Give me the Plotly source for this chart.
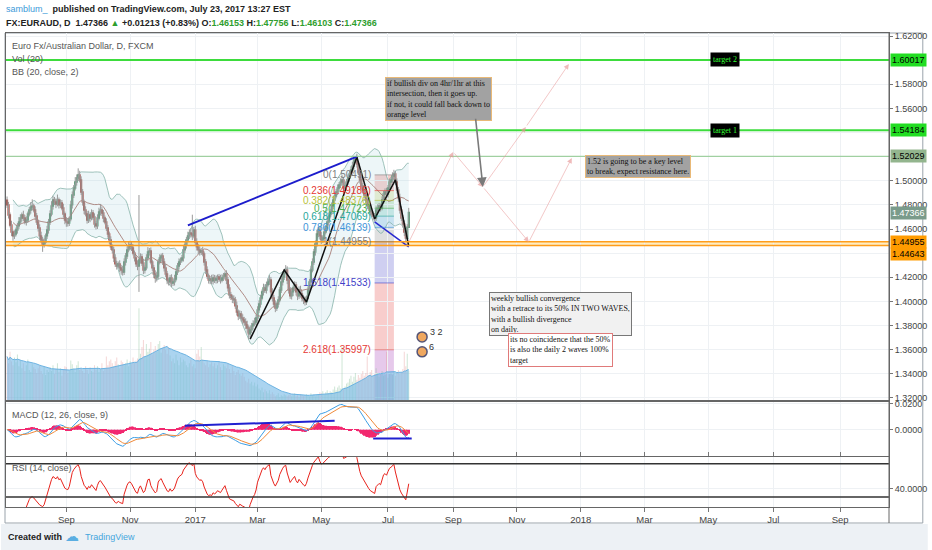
import numpy as np
import pandas as pd
import plotly.graph_objects as go

# EUR/AUD daily candles (Jul 2016 .. Jul 21 2017)
closes = [
    1.4800, 1.4717, 1.4634, 1.4576, 1.4543, 1.4559, 1.4592, 1.4626, 1.4659, 1.4692,
    1.4717, 1.4692, 1.4659, 1.4675, 1.4725, 1.4758, 1.4783, 1.4791, 1.4758, 1.4708,
    1.4659, 1.4609, 1.4543, 1.4510, 1.4476, 1.4493, 1.4543, 1.4592, 1.4659, 1.4725,
    1.4791, 1.4841, 1.4824, 1.4808, 1.4841, 1.4800, 1.4816, 1.4775, 1.4725, 1.4675,
    1.4659, 1.4650, 1.4684, 1.4800, 1.4882, 1.4940, 1.4990, 1.5023, 1.5048, 1.5007,
    1.4907, 1.4824, 1.4758, 1.4725, 1.4675, 1.4717, 1.4692, 1.4733, 1.4700, 1.4642,
    1.4626, 1.4692, 1.4742, 1.4758, 1.4733, 1.4692, 1.4659, 1.4609, 1.4559, 1.4510,
    1.4452, 1.4427, 1.4361, 1.4311, 1.4294, 1.4311, 1.4278, 1.4261, 1.4244, 1.4327,
    1.4377, 1.4427, 1.4460, 1.4468, 1.4443, 1.4402, 1.4361, 1.4311, 1.4294, 1.4344,
    1.4369, 1.4319, 1.4261, 1.4278, 1.4361, 1.4410, 1.4418, 1.4327, 1.4278, 1.4228,
    1.4195, 1.4211, 1.4327, 1.4361, 1.4377, 1.4327, 1.4278, 1.4228, 1.4178, 1.4162,
    1.4195, 1.4153, 1.4162, 1.4186, 1.4244, 1.4294, 1.4327, 1.4344, 1.4361, 1.4427,
    1.4468, 1.4510, 1.4543, 1.4568, 1.4559, 1.4543, 1.4592, 1.4493, 1.4452, 1.4427,
    1.4410, 1.4418, 1.4394, 1.4327, 1.4261, 1.4211, 1.4178, 1.4186, 1.4170, 1.4195,
    1.4178, 1.4186, 1.4203, 1.4186, 1.4178, 1.4195, 1.4211, 1.4228, 1.4178, 1.4112,
    1.4054, 1.4037, 1.4021, 1.4013, 1.3963, 1.3913, 1.3880, 1.3896, 1.3863, 1.3847,
    1.3830, 1.3805, 1.3780, 1.3731, 1.3764, 1.3797, 1.3814, 1.3830, 1.3863, 1.3930,
    1.3979, 1.4029, 1.4079, 1.4112, 1.4095, 1.4137, 1.4162, 1.4178, 1.4079, 1.4029,
    1.3979, 1.3946, 1.3979, 1.4013, 1.4095, 1.4162, 1.4203, 1.4244, 1.4261, 1.4178,
    1.4095, 1.4046, 1.4079, 1.4112, 1.4137, 1.4079, 1.4046, 1.4095, 1.4062, 1.4029,
    1.4013, 1.3996, 1.4029, 1.4095, 1.4162, 1.4261, 1.4327, 1.4410, 1.4476, 1.4559,
    1.4592, 1.4543, 1.4510, 1.4526, 1.4576, 1.4609, 1.4659, 1.4708, 1.4742, 1.4791,
    1.4841, 1.4874, 1.4907, 1.4940, 1.4965, 1.4990, 1.5007, 1.4940, 1.4957, 1.4990,
    1.5023, 1.5056, 1.5090, 1.5123, 1.5172, 1.5189, 1.5139, 1.5073, 1.5007, 1.4957,
    1.4924, 1.4882, 1.4841, 1.4800, 1.4775, 1.4742, 1.4725, 1.4708, 1.4692, 1.4758,
    1.4775, 1.4791, 1.4775, 1.4841, 1.4891, 1.4907, 1.4891, 1.4940, 1.4990, 1.5007,
    1.5040, 1.5056, 1.4990, 1.4924, 1.4858, 1.4758, 1.4692, 1.4642, 1.4576, 1.4526,
    1.46153, 1.47366,
]
first_open = 1.4840

# wick lengths beyond the candle body, in pips
upper_wick_pips = [
    30, 25, 20, 35, 15, 30, 20, 25, 40, 30,
    20, 35, 25, 30, 20, 25, 40, 55, 20, 30,
    25, 20, 30, 35, 25, 30, 20, 35, 25, 30,
    40, 35, 25, 30, 45, 20, 30, 25, 35, 20,
    25, 30, 20, 35, 30, 25, 40, 30, 55, 35,
    30, 25, 20, 30, 25, 35, 20, 30, 25, 30,
    25, 30, 35, 50, 30, 25, 20, 30, 25, 20,
    30, 20, 25, 30, 25, 20, 30, 25, 35, 30,
    25, 30, 40, 35, 25, 30, 20, 25, 30, 538,
    30, 25, 35, 20, 30, 40, 25, 30, 20, 25,
    30, 35, 25, 30, 20, 25, 30, 35, 25, 20,
    25, 30, 20, 35, 30, 25, 30, 20, 25, 35,
    30, 25, 35, 30, 40, 160, 25, 35, 30, 25,
    30, 25, 35, 20, 25, 30, 20, 25, 35, 30,
    25, 30, 20, 25, 35, 30, 25, 20, 30, 25,
    30, 25, 20, 30, 25, 35, 20, 30, 25, 30,
    25, 30, 35, 20, 30, 25, 30, 35, 25, 30,
    30, 25, 20, 35, 30, 25, 30, 40, 25, 30,
    25, 30, 20, 30, 25, 35, 30, 25, 40, 30,
    30, 25, 35, 20, 30, 25, 20, 30, 35, 25,
    25, 30, 20, 30, 25, 35, 30, 25, 30, 35,
    30, 25, 35, 20, 30, 25, 35, 30, 25, 30,
    30, 35, 25, 30, 25, 30, 40, 25, 30, 25,
    30, 25, 30, 35, 30, 15, 35, 25, 30, 25,
    25, 30, 35, 20, 30, 25, 30, 20, 25, 30,
    30, 25, 20, 30, 25, 30, 35, 25, 30, 25,
    30, 35, 25, 30, 25, 35, 30, 25, 30, 25,
    25, 39,
]
lower_wick_pips = [
    25, 30, 20, 35, 40, 25, 20, 30, 25, 20,
    30, 25, 20, 30, 25, 20, 30, 25, 20, 30,
    25, 30, 35, 25, 65, 30, 20, 25, 30, 25,
    20, 30, 25, 35, 20, 30, 25, 20, 30, 35,
    40, 30, 25, 20, 30, 25, 20, 30, 25, 20,
    25, 30, 35, 20, 30, 25, 35, 20, 25, 30,
    30, 25, 20, 30, 25, 35, 20, 25, 30, 35,
    25, 30, 35, 25, 30, 20, 35, 40, 30, 25,
    30, 25, 20, 30, 25, 20, 30, 25, 35, 215,
    30, 25, 35, 30, 20, 25, 30, 20, 25, 35,
    40, 30, 25, 20, 30, 25, 30, 25, 35, 30,
    30, 35, 25, 30, 20, 25, 30, 25, 20, 30,
    25, 30, 20, 25, 30, 35, 20, 25, 30, 35,
    30, 25, 20, 30, 35, 25, 30, 35, 25, 30,
    25, 30, 35, 25, 30, 20, 25, 30, 35, 30,
    30, 25, 35, 30, 25, 30, 35, 25, 30, 35,
    30, 35, 40, 45, 30, 25, 30, 20, 25, 30,
    25, 30, 20, 30, 25, 30, 20, 25, 35, 30,
    30, 35, 25, 30, 20, 25, 30, 25, 20, 35,
    30, 25, 30, 35, 25, 30, 35, 25, 30, 30,
    35, 30, 25, 20, 25, 30, 20, 25, 30, 25,
    25, 30, 35, 25, 30, 20, 25, 30, 20, 25,
    25, 30, 20, 25, 30, 25, 20, 30, 25, 30,
    25, 30, 20, 25, 30, 25, 30, 25, 30, 35,
    30, 25, 30, 35, 25, 30, 25, 35, 30, 25,
    30, 25, 30, 20, 25, 30, 25, 30, 20, 25,
    25, 30, 25, 30, 35, 30, 25, 30, 35, 30,
    66, 5,
]
volumes = [
    45, 38, 50, 40, 36, 44, 39, 47, 35, 41,
    33, 38, 30, 36, 42, 31, 29, 37, 34, 32,
    28, 33, 36, 30, 27, 35, 26, 31, 29, 34,
    30, 36, 27, 32, 38, 29, 33, 25, 31, 35,
    34, 28, 30, 41, 37, 33, 29, 36, 40, 31,
    33, 30, 28, 35, 31, 27, 34, 30, 29, 36,
    31, 35, 29, 32, 38, 30, 33, 45, 36, 40,
    42, 38, 35, 40, 44, 37, 33, 41, 39, 36,
    38, 42, 35, 40, 37, 44, 39, 41, 43, 95,
    48, 55, 62, 45, 58, 50, 53, 60, 47, 52,
    56, 50, 58, 61, 49, 54, 57, 52, 48, 55,
    46, 40, 43, 38, 47, 41, 36, 44, 39, 42,
    40, 36, 34, 38, 42, 35, 37, 33, 48, 52,
    45, 55, 42, 38, 36, 40, 34, 37, 39, 35,
    38, 33, 36, 40, 34, 31, 37, 35, 33, 38,
    32, 28, 35, 30, 26, 29, 31, 27, 25, 28,
    24, 20, 18, 22, 17, 19, 15, 18, 14, 16,
    12, 10, 13, 8, 11, 9, 7, 10, 6, 8,
    6, 4, 5, 7, 3, 5, 4, 6, 5, 4,
    5, 6, 4, 5, 7, 4, 5, 3, 6, 5,
    4, 5, 6, 5, 4, 7, 5, 6, 4, 5,
    6, 8, 7, 9, 6, 8, 10, 7, 9, 8,
    11, 14, 10, 13, 15, 12, 55, 11, 14, 17,
    18, 22, 25, 19, 24, 28, 21, 26, 23, 27,
    30, 25, 28, 45, 26, 29, 31, 24, 27, 33,
    28, 24, 27, 30, 25, 26, 50, 23, 27, 28,
    26, 30, 25, 28, 31, 27, 29, 32, 50, 35,
    48, 30,
]
last_date = "2017-07-21"

# x tick labels (every second month)
tick_dates = ["2016-09-01", "2016-11-01", "2017-01-02", "2017-03-01", "2017-05-01", "2017-07-03",
              "2017-09-01", "2017-11-01", "2018-01-01", "2018-03-01", "2018-05-01", "2018-07-02",
              "2018-09-03"]
tick_text = ["Sep", "Nov", "2017", "Mar", "May", "Jul", "Sep", "Nov", "2018", "Mar", "May", "Jul", "Sep"]
# price ticks shown on the right axis (the rest sit under the price badges)
price_ticks = [1.32, 1.34, 1.36, 1.38, 1.40, 1.42, 1.46, 1.48, 1.50, 1.56, 1.58, 1.62]
hidden_price_ticks = [1.44, 1.52, 1.54, 1.60]

# horizontal levels drawn by the author
target_levels = [1.60017, 1.54184]
target_names = ["target 2", "target 1"]
key_level = 1.52029
orange_levels = [1.44955, 1.44643]

# fibonacci retracement (bar indexes of its box)
fib_ratios = [0, 0.236, 0.382, 0.5, 0.618, 0.786, 1, 1.618, 2.618, 3.618]
fib_prices = [1.50491, 1.49186, 1.48376, 1.47723, 1.47069, 1.46139, 1.44955, 1.41533, 1.35997, 1.30461]
fib_colors = ["#808080", "#e53935", "#b8c23a", "#4caf50", "#26a69a", "#3d94d8", "#808080",
              "#3f3fc8", "#e53935", "#9c27b0"]
fib_bars = [248, 261]

# trend drawings: (bar index, price)
zigzag_bars = [164, 187, 202, 236, 248, 262, 271]
zigzag_prices = [1.3688, 1.4261, 1.3996, 1.5197, 1.4684, 1.5007, 1.4460]
div_bars = [122, 236]
div_prices = [1.4630, 1.5200]
fall_bars = [248, 271]
fall_prices = [1.4659, 1.4452]
path_a_bars = [271, 301, 321, 352, 381]
path_a_prices = [1.4490, 1.5239, 1.4949, 1.4493, 1.5189]
path_b_bars = [321, 350, 379]
path_b_prices = [1.4949, 1.5446, 1.5968]
gray_arrow_bars = [316, 321]
gray_arrow_prices = [1.5527, 1.4949]
macd_div_bars = [[120, 221], [247, 273]]
macd_div_vals = [[0.0031, 0.0069], [-0.0069, -0.0069]]

notes = [
    "if bullish div on 4hr/1hr at this<br>intersection, then it goes up.<br>if not, it could fall back down to<br>orange level",
    "1.52 is going to be a key level<br>to break, expect resistance here.",
    "weekly bullish convergence<br>with a retrace to its 50% IN TWO WAVES,<br>with a bullish divergence<br>on daily.",
    "its no coincidence that the 50%<br>is also the daily 2 waves 100%<br>target",
]
note_bars = [255, 390, 325, 338]
note_prices = [1.5860, 1.5213, 1.4079, 1.3738]

# ---------------------------------------------------------------- derived
n = len(closes)
dates = pd.bdate_range(end=last_date, periods=n)
days = pd.bdate_range(start=dates[0], periods=620)
opens = [first_open] + closes[:-1]
body_hi = np.maximum(opens, closes)
body_lo = np.minimum(opens, closes)
highs = body_hi + np.array(upper_wick_pips) / 1e4
lows = body_lo - np.array(lower_wick_pips) / 1e4


def d(i):
    return str(days[i].date())


c = pd.Series(closes)
basis = c.rolling(20, min_periods=5).mean()
dev = c.rolling(20, min_periods=5).std(ddof=0)
bb_up = basis + 2 * dev
bb_lo = basis - 2 * dev
macd = c.ewm(span=12, adjust=False).mean() - c.ewm(span=26, adjust=False).mean()
signal = macd.ewm(span=9, adjust=False).mean()
hist = macd - signal
delta = c.diff()
gain = delta.clip(lower=0).ewm(alpha=1 / 14, adjust=False).mean()
loss = (-delta.clip(upper=0)).ewm(alpha=1 / 14, adjust=False).mean()
rsi = 100 - 100 / (1 + gain / loss)
vol_ma = pd.Series(volumes).rolling(20, min_periods=1).mean()

UP, DOWN = "#3b8d5e", "#a83a30"
up_mask = np.array(closes) >= np.array(opens)

# pixel helpers for paper positioned text (plot area 5..893 x 33..507)
def px(x):
    return (x - 5) / 888


def py(y):
    return (507 - y) / 474


FONT = "Liberation Sans, Arial"
SERIF = "Liberation Serif, Times New Roman, serif"

fig = go.Figure()

# volume (base axis y, drawn underneath the price overlay)
fig.add_trace(go.Bar(x=dates, y=volumes, yaxis="y", xaxis="x",
                     marker=dict(color=np.where(up_mask, "rgba(120,185,140,0.35)", "rgba(225,140,140,0.35)"),
                                 line_width=0)))
fig.add_trace(go.Scatter(x=dates, y=vol_ma, yaxis="y", mode="lines", fill="tozeroy",
                         line=dict(color="#6cb3e2", width=1), fillcolor="rgba(115,183,230,0.6)"))

# bollinger bands
fig.add_trace(go.Scatter(x=dates, y=bb_up, yaxis="y2", mode="lines", line=dict(color="#86b2aa", width=0.8)))
fig.add_trace(go.Scatter(x=dates, y=bb_lo, yaxis="y2", mode="lines", line=dict(color="#86b2aa", width=0.8),
                         fill="tonexty", fillcolor="rgba(175,212,222,0.22)"))
fig.add_trace(go.Scatter(x=dates, y=basis, yaxis="y2", mode="lines", line=dict(color="#a0716a", width=0.8)))

# wicks then bodies
wx, wy = [], []
for t, lo, hi in zip(dates, lows, highs):
    wx += [t, t, None]
    wy += [lo, hi, None]
fig.add_trace(go.Scatter(x=wx, y=wy, yaxis="y2", mode="lines", line=dict(color="#9a9a9a", width=1)))
fig.add_trace(go.Candlestick(x=dates, open=opens, high=body_hi, low=body_lo, close=closes, yaxis="y2",
                             increasing=dict(line=dict(color=UP, width=1.4), fillcolor=UP),
                             decreasing=dict(line=dict(color=DOWN, width=1.4), fillcolor=DOWN),
                             whiskerwidth=0))

# zigzag + divergence lines
fig.add_trace(go.Scatter(x=[d(i) for i in zigzag_bars], y=zigzag_prices, yaxis="y2", mode="lines",
                         line=dict(color="#111111", width=1.5)))
fig.add_trace(go.Scatter(x=[d(i) for i in div_bars], y=div_prices, yaxis="y2", mode="lines",
                         line=dict(color="#1c1ccc", width=2)))
fig.add_trace(go.Scatter(x=[d(i) for i in fall_bars], y=fall_prices, yaxis="y2", mode="lines",
                         line=dict(color="#2a2ad0", width=1.5)))

# small event badges
fig.add_trace(go.Scatter(x=[d(280), d(280)], y=[1.3706, 1.3582], yaxis="y2", mode="markers",
                         marker=dict(size=10, color="#f0a860", line=dict(color="#555577", width=1.5))))

# MACD
fig.add_trace(go.Bar(x=dates, y=hist, yaxis="y3", marker=dict(color="#f2286f", line_width=0)))
fig.add_trace(go.Scatter(x=dates, y=macd, yaxis="y3", mode="lines", line=dict(color="#3c9ee5", width=1)))
fig.add_trace(go.Scatter(x=dates, y=signal, yaxis="y3", mode="lines", line=dict(color="#f08a3a", width=1)))
for bars, vals in zip(macd_div_bars, macd_div_vals):
    fig.add_trace(go.Scatter(x=[d(i) for i in bars], y=vals, yaxis="y3", mode="lines",
                             line=dict(color="#2020d0", width=2)))

# RSI
fig.add_trace(go.Scatter(x=dates, y=rsi, yaxis="y4", mode="lines", line=dict(color="#e8231c", width=1)))

shapes = []
for lvl in target_levels:
    shapes.append(dict(type="line", xref="paper", x0=0, x1=1, yref="y2", y0=lvl, y1=lvl,
                       line=dict(color="#3ddc3d", width=2)))
shapes.append(dict(type="line", xref="paper", x0=0, x1=1, yref="y2", y0=key_level, y1=key_level,
                   line=dict(color="#8cc98c", width=1)))
shapes.append(dict(type="rect", xref="paper", x0=0, x1=1, yref="y2", y0=orange_levels[1], y1=orange_levels[0],
                   fillcolor="rgba(255,215,120,0.45)", line_width=0, layer="below"))
for lvl in orange_levels:
    shapes.append(dict(type="line", xref="paper", x0=0, x1=1, yref="y2", y0=lvl, y1=lvl,
                       line=dict(color="#ff9d1a", width=1.5)))
for k in range(len(fib_prices) - 1):
    shapes.append(dict(type="rect", xref="x", yref="y2", x0=d(fib_bars[0]), x1=d(fib_bars[1]),
                       y0=fib_prices[k], y1=fib_prices[k + 1], fillcolor=fib_colors[k + 1],
                       opacity=0.25, line_width=0, layer="below"))
for p, col in zip(fib_prices, fib_colors):
    shapes.append(dict(type="line", xref="x", yref="y2", x0=d(fib_bars[0]), x1=d(fib_bars[1]),
                       y0=p, y1=p, line=dict(color=col, width=1), opacity=0.6))
# RSI bands
for v in (70, 30):
    shapes.append(dict(type="line", xref="paper", x0=0, x1=1, yref="y4", y0=v, y1=v,
                       line=dict(color="#333333", width=1.5)))
# outer frame and footer band
shapes.append(dict(type="rect", xref="paper", yref="paper", x0=px(4), x1=px(927), y0=py(523), y1=py(33),
                   line=dict(color="#9aa3ab", width=1), layer="below"))
shapes.append(dict(type="rect", xref="paper", yref="paper", x0=px(0), x1=px(932), y0=py(550), y1=py(524),
                   fillcolor="#edf1f5", line_width=0, layer="below"))
shapes.append(dict(type="line", xref="paper", yref="paper", x0=1, x1=1, y0=py(523), y1=py(33),
                   line=dict(color="#666666", width=1)))

ann = []
# header
ann.append(dict(xref="paper", yref="paper", x=px(3), y=py(9), xanchor="left", yanchor="middle", showarrow=False,
                text="<span style='color:#3d9ad9'>samblum_</span>  <b>published on TradingView.com, "
                     "July 23, 2017 13:27 EST</b>",
                font=dict(family=FONT, size=9, color="#222222")))
g = "#2e9e2e"
chg = closes[-1] - closes[-2]
ann.append(dict(xref="paper", yref="paper", x=px(3), y=py(23), xanchor="left", yanchor="middle", showarrow=False,
                text=(f"<b>FX:EURAUD, D  {closes[-1]:.5f} <span style='color:{g}'>▲</span> "
                      f"+{chg:.5f} (+{chg / closes[-2] * 100:.2f}%) "
                      f"O:<span style='color:{g}'>{opens[-1]:.5f}</span> "
                      f"H:<span style='color:{g}'>{highs[-1]:.5f}</span> "
                      f"L:<span style='color:{g}'>{lows[-1]:.5f}</span> "
                      f"C:<span style='color:{g}'>{closes[-1]:.5f}</span></b>"),
                font=dict(family=FONT, size=9, color="#222222")))
# panel titles
for txt, yy in [("Euro Fx/Australian Dollar, D, FXCM", 46), ("Vol (20)", 59), ("BB (20, close, 2)", 72),
                ("MACD (12, 26, close, 9)", 415), ("RSI (14, close)", 468)]:
    ann.append(dict(xref="paper", yref="paper", x=px(9), y=py(yy), xanchor="left", yanchor="middle",
                    showarrow=False, text=txt, font=dict(family=FONT, size=9, color="#555555")))
# footer
ann.append(dict(xref="paper", yref="paper", x=px(5), y=py(537), xanchor="left", yanchor="middle", showarrow=False,
                text="<b>Created with</b>", font=dict(family=FONT, size=9, color="#222222")))
ann.append(dict(xref="paper", yref="paper", x=px(62), y=py(536), xanchor="left", yanchor="middle", showarrow=False,
                text="☁", font=dict(family="DejaVu Sans", size=14, color="#5aaee2")))
ann.append(dict(xref="paper", yref="paper", x=px(82), y=py(537), xanchor="left", yanchor="middle", showarrow=False,
                text="TradingView", font=dict(family=FONT, size=9, color="#45a6dd")))

# right-axis price badges
badges = [(target_levels[0], "#22dd22", "#000000", 0), (target_levels[1], "#22dd22", "#000000", 0),
          (key_level, "#93b58e", "#000000", 0), (closes[-1], "#7a9b8b", "#ffffff", 0),
          (orange_levels[0], "#ff9b00", "#000000", 0), (orange_levels[1], "#ff9b00", "#000000", -9)]
for val, bg, fc, ys in badges:
    ann.append(dict(xref="paper", yref="y2", x=px(894), y=val, xanchor="left", yanchor="middle", yshift=ys,
                    showarrow=False, text=f"{val:.5f}", bgcolor=bg, borderpad=1,
                    font=dict(family=FONT, size=9, color=fc)))
# target boxes
for lvl, name in zip(target_levels, target_names):
    ann.append(dict(xref="x", yref="y2", x=d(474), y=lvl, xanchor="left", yanchor="middle", showarrow=False,
                    text=name, bgcolor="#000000", borderpad=2,
                    font=dict(family=SERIF, size=8, color="#33ff33")))
# fib labels
for r, p, col in zip(fib_ratios[:-1], fib_prices[:-1], fib_colors[:-1]):
    ann.append(dict(xref="x", yref="y2", x=d(fib_bars[0]), y=p, xanchor="right", yanchor="middle",
                    xshift=-2, showarrow=False, text=f"{r:g}({p:.5f})",
                    font=dict(family=FONT, size=10, color=col)))
# notes
note_styles = [("#a2a2a2", "#e9b977"), ("#a2a2a2", "#e9b977"), ("#f1f1f1", "#777777"), ("#ffffff", "#e07a7a")]
for txt, b, p, (bg, bc) in zip(notes, note_bars, note_prices, note_styles):
    ann.append(dict(xref="x", yref="y2", x=d(b), y=p, xanchor="left", yanchor="top", showarrow=False,
                    text=txt, align="left", bgcolor=bg, bordercolor=bc, borderwidth=1, borderpad=1,
                    font=dict(family=SERIF, size=8, color="#111111")))
# projection arrows
PINK = "rgba(232,150,150,0.65)"
for bars, prices in [(path_a_bars, path_a_prices), (path_b_bars, path_b_prices)]:
    for k in range(len(bars) - 1):
        ann.append(dict(xref="x", yref="y2", axref="x", ayref="y2", x=d(bars[k + 1]), y=prices[k + 1],
                        ax=d(bars[k]), ay=prices[k], text="", showarrow=True, arrowhead=2, arrowsize=1.3,
                        arrowwidth=0.8, arrowcolor=PINK, standoff=0))
ann.append(dict(xref="x", yref="y2", axref="x", ayref="y2", x=d(gray_arrow_bars[1]), y=gray_arrow_prices[1],
                ax=d(gray_arrow_bars[0]), ay=gray_arrow_prices[0], text="", showarrow=True, arrowhead=2,
                arrowsize=1.2, arrowwidth=1.6, arrowcolor="#7a7a7a", standoff=0))
# badge numbers
ann.append(dict(xref="x", yref="y2", x=d(284), y=1.3745, xanchor="left", showarrow=False, text="3 2",
                font=dict(family=FONT, size=9, color="#333333")))
ann.append(dict(xref="x", yref="y2", x=d(283), y=1.3620, xanchor="left", showarrow=False, text="6",
                font=dict(family=FONT, size=9, color="#333333")))

axis_common = dict(showline=True, mirror=True, linecolor="#666666", linewidth=1, gridcolor="#eef1f4",
                   zeroline=False, side="right", ticks="outside", ticklen=3, tickcolor="#777777",
                   tickfont=dict(family=FONT, size=9, color="#444444"))

fig.update_layout(
    width=932, height=550, autosize=False,
    margin=dict(l=5, r=39, t=33, b=43),
    paper_bgcolor="white", plot_bgcolor="white",
    showlegend=False, hovermode=False, bargap=0.3,
    font=dict(family=FONT, size=10, color="#444444"),
    xaxis=dict(anchor="y4", domain=[0, 1], type="date",
               range=[dates[0] - pd.Timedelta(hours=17), days[595]],
               rangebreaks=[dict(bounds=["sat", "mon"])], rangeslider=dict(visible=False),
               tickvals=tick_dates, ticktext=tick_text, ticks="outside", ticklen=4, tickcolor="#777777",
               showgrid=True, gridcolor="#eef1f4", showline=True, mirror="all", linecolor="#666666",
               tickfont=dict(family=FONT, size=9.5, color="#444444")),
    yaxis=dict(domain=[py(400), 1], range=[0, 380], visible=False, showgrid=False),
    yaxis2=dict(axis_common, overlaying="y", anchor="x", range=[1.3183, 1.6225],
                tickvals=price_ticks, tickformat=".5f",
                minor=dict(tickvals=hidden_price_ticks, showgrid=True, gridcolor="#eef1f4", ticks="")),
    yaxis3=dict(axis_common, domain=[py(456), py(402)], anchor="x", range=[-0.0205, 0.0215],
                tickvals=[0.02, 0.0], tickformat=".4f"),
    yaxis4=dict(axis_common, domain=[0, py(457)], anchor="x", range=[18, 78], tickvals=[40],
                tickformat=".4f"),
    shapes=shapes,
    annotations=ann,
)

# the page's default body margin would shift the fixed-size figure
fig.write_html("out.html", config={"displayModeBar": False},
               post_script="document.body.style.margin='0px';document.body.style.overflow='hidden';")
